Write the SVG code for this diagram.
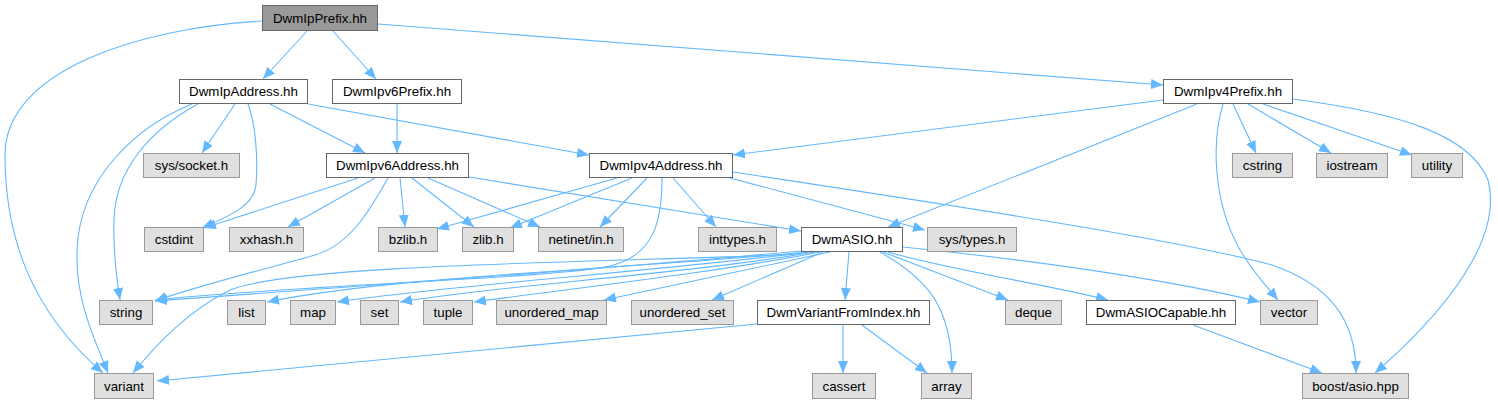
<svg xmlns="http://www.w3.org/2000/svg" width="1498" height="405" viewBox="0 0 1498 405">
<style>
.e{fill:none;stroke:#63B8FF;stroke-width:1.1;marker-end:url(#ah)}
.n rect{stroke-width:1}
.w rect{fill:#FFFFFF;stroke:#666666}
.g rect{fill:#E0E0E0;stroke:#999999}
.r rect{fill:#999999;stroke:#666666}
text{font-family:"Liberation Sans",Arial,Helvetica,sans-serif;font-size:13.33px;fill:#000;text-anchor:middle}
</style>
<defs>
<marker id="ah" markerUnits="userSpaceOnUse" markerWidth="14" markerHeight="12" refX="12" refY="5" orient="auto">
<path d="M0,0 L12,5 L0,10 z" fill="#63B8FF"/>
</marker>
</defs>
<rect width="1498" height="405" fill="#FFFFFF"/>
<g id="edges">
<path class="e" d="M307,31 L263,79"/>
<path class="e" d="M333,31 L376,79"/>
<path class="e" d="M378,24 L1163,85"/>
<path class="e" d="M262,21 C140,28 5,70 5,155 C5,235 30,310 103,373"/>
<path class="e" d="M235,104 L202,153"/>
<path class="e" d="M248,104 C256,125 258,160 256,185 C254,205 232,215 202,228"/>
<path class="e" d="M270,104 L365,153"/>
<path class="e" d="M308,104 L589,155"/>
<path class="e" d="M192,104 C140,125 80,175 77,250 C75,300 95,340 108,373"/>
<path class="e" d="M198,104 C150,130 115,170 114,220 C113,250 116,275 120,300"/>
<path class="e" d="M397,104 L397,153"/>
<path class="e" d="M358,178 L204,228"/>
<path class="e" d="M375,178 L288,227"/>
<path class="e" d="M400,178 L405,227"/>
<path class="e" d="M412,178 L474,227"/>
<path class="e" d="M428,178 L540,227"/>
<path class="e" d="M388,178 C370,210 350,245 315,255 C270,268 200,285 155,301"/>
<path class="e" d="M469,177 L801,231"/>
<path class="e" d="M617,178 L437,229"/>
<path class="e" d="M632,178 L510,228"/>
<path class="e" d="M647,178 L600,227"/>
<path class="e" d="M673,178 L716,227"/>
<path class="e" d="M730,178 L925,230"/>
<path class="e" d="M733,172 C950,205 1180,240 1272,265 C1330,285 1356,320 1356,373"/>
<path class="e" d="M662,178 C662,220 655,255 610,266 C560,278 300,285 155,300"/>
<path class="e" d="M1163,100 L733,155"/>
<path class="e" d="M1197,104 L888,227"/>
<path class="e" d="M1223,104 C1212,140 1212,200 1240,250 C1255,275 1268,288 1278,300"/>
<path class="e" d="M1233,104 L1256,153"/>
<path class="e" d="M1248,104 L1331,153"/>
<path class="e" d="M1263,104 L1412,155"/>
<path class="e" d="M1293,99 C1400,113 1470,135 1488,180 C1500,225 1470,290 1375,373"/>
<path class="e" d="M801,251 C600,270 300,290 155,301"/>
<path class="e" d="M805,252 C650,268 400,275 267,302"/>
<path class="e" d="M810,252 C650,272 450,285 337,302"/>
<path class="e" d="M815,252 C680,275 500,285 400,302"/>
<path class="e" d="M820,252 C720,272 560,290 474,302"/>
<path class="e" d="M830,252 L604,300"/>
<path class="e" d="M823,252 L712,300"/>
<path class="e" d="M849,252 L845,300"/>
<path class="e" d="M801,254 C650,262 300,262 230,290 C190,310 160,340 133,373"/>
<path class="e" d="M883,252 C930,270 970,285 1008,300"/>
<path class="e" d="M888,252 C950,270 1050,285 1108,300"/>
<path class="e" d="M903,247 C1050,262 1180,282 1260,302"/>
<path class="e" d="M880,252 C930,280 952,310 952,373"/>
<path class="e" d="M757,324 L157,381"/>
<path class="e" d="M843,325 L843,373"/>
<path class="e" d="M862,325 L927,373"/>
<path class="e" d="M1193,325 L1322,373"/>
</g>
<g id="n_DwmIpPrefix" class="n r"><rect x="262.5" y="5.5" width="115" height="25"/><text x="320" y="22.5">DwmIpPrefix.hh</text></g>
<g id="n_DwmIpAddress" class="n w"><rect x="179.5" y="79.5" width="128" height="24"/><text x="243.5" y="96">DwmIpAddress.hh</text></g>
<g id="n_DwmIpv6Prefix" class="n w"><rect x="332.5" y="79.5" width="129" height="24"/><text x="397" y="96">DwmIpv6Prefix.hh</text></g>
<g id="n_DwmIpv4Prefix" class="n w"><rect x="1163.5" y="79.5" width="129" height="24"/><text x="1228" y="96">DwmIpv4Prefix.hh</text></g>
<g id="n_syssocket" class="n g"><rect x="143.5" y="153.5" width="96" height="24"/><text x="191.5" y="170">sys/socket.h</text></g>
<g id="n_DwmIpv6Address" class="n w"><rect x="326.5" y="153.5" width="142" height="24"/><text x="397.5" y="170">DwmIpv6Address.hh</text></g>
<g id="n_DwmIpv4Address" class="n w"><rect x="589.5" y="153.5" width="143" height="24"/><text x="661" y="170">DwmIpv4Address.hh</text></g>
<g id="n_cstring" class="n g"><rect x="1232.5" y="153.5" width="60" height="24"/><text x="1262.5" y="170">cstring</text></g>
<g id="n_iostream" class="n g"><rect x="1316.5" y="153.5" width="71" height="24"/><text x="1352" y="170">iostream</text></g>
<g id="n_utility" class="n g"><rect x="1411.5" y="153.5" width="51" height="24"/><text x="1437" y="170">utility</text></g>
<g id="n_cstdint" class="n g"><rect x="144.5" y="227.5" width="59" height="24"/><text x="174" y="244">cstdint</text></g>
<g id="n_xxhash" class="n g"><rect x="229.5" y="227.5" width="74" height="24"/><text x="266.5" y="244">xxhash.h</text></g>
<g id="n_bzlib" class="n g"><rect x="378.5" y="227.5" width="59" height="24"/><text x="408" y="244">bzlib.h</text></g>
<g id="n_zlib" class="n g"><rect x="462.5" y="227.5" width="51" height="24"/><text x="488" y="244">zlib.h</text></g>
<g id="n_netinet" class="n g"><rect x="538.5" y="227.5" width="85" height="24"/><text x="581" y="244">netinet/in.h</text></g>
<g id="n_inttypes" class="n g"><rect x="698.5" y="227.5" width="78" height="24"/><text x="737.5" y="244">inttypes.h</text></g>
<g id="n_DwmASIO" class="n w"><rect x="801.5" y="227.5" width="101" height="24"/><text x="852" y="244">DwmASIO.hh</text></g>
<g id="n_systypes" class="n g"><rect x="927.5" y="227.5" width="89" height="24"/><text x="972" y="244">sys/types.h</text></g>
<g id="n_string" class="n g"><rect x="99.5" y="300.5" width="53" height="24"/><text x="126" y="317">string</text></g>
<g id="n_list" class="n g"><rect x="227.5" y="300.5" width="38" height="24"/><text x="246.5" y="317">list</text></g>
<g id="n_map" class="n g"><rect x="290.5" y="300.5" width="45" height="24"/><text x="313" y="317">map</text></g>
<g id="n_set" class="n g"><rect x="360.5" y="300.5" width="38" height="24"/><text x="379.5" y="317">set</text></g>
<g id="n_tuple" class="n g"><rect x="423.5" y="300.5" width="49" height="24"/><text x="448" y="317">tuple</text></g>
<g id="n_unordered_map" class="n g"><rect x="496.5" y="300.5" width="110" height="24"/><text x="551.5" y="317">unordered_map</text></g>
<g id="n_unordered_set" class="n g"><rect x="631.5" y="300.5" width="102" height="24"/><text x="682.5" y="317">unordered_set</text></g>
<g id="n_DwmVariantFromIndex" class="n w"><rect x="757.5" y="300.5" width="172" height="24"/><text x="843.5" y="317">DwmVariantFromIndex.hh</text></g>
<g id="n_deque" class="n g"><rect x="1005.5" y="300.5" width="56" height="24"/><text x="1033.5" y="317">deque</text></g>
<g id="n_DwmASIOCapable" class="n w"><rect x="1086.5" y="300.5" width="149" height="24"/><text x="1161" y="317">DwmASIOCapable.hh</text></g>
<g id="n_vector" class="n g"><rect x="1260.5" y="300.5" width="57" height="24"/><text x="1289" y="317">vector</text></g>
<g id="n_variant" class="n g"><rect x="94.5" y="373.5" width="59" height="25"/><text x="124" y="390.5">variant</text></g>
<g id="n_cassert" class="n g"><rect x="812.5" y="373.5" width="63" height="25"/><text x="844" y="390.5">cassert</text></g>
<g id="n_array" class="n g"><rect x="921.5" y="373.5" width="50" height="25"/><text x="946.5" y="390.5">array</text></g>
<g id="n_boostasio" class="n g"><rect x="1302.5" y="373.5" width="106" height="25"/><text x="1355.5" y="390.5">boost/asio.hpp</text></g>
</svg>
